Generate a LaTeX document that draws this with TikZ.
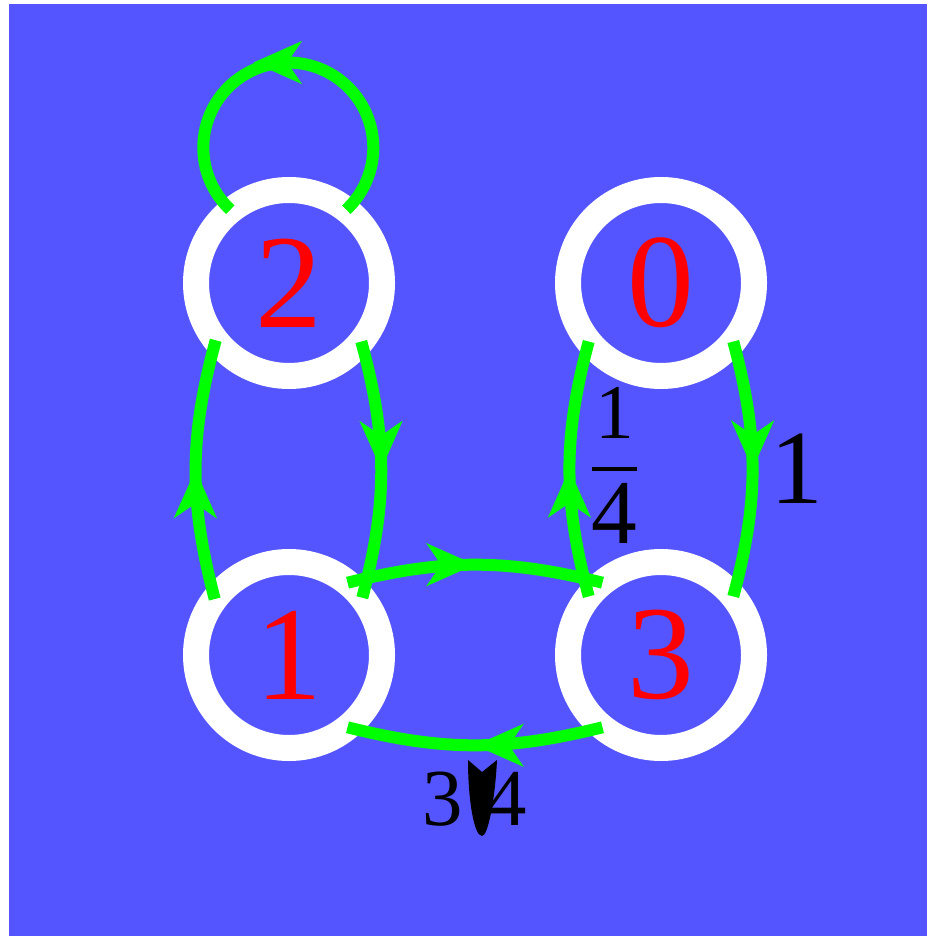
\documentclass[tikz,border=0pt]{standalone}
\usepackage{fontspec}
\setmainfont{Liberation Serif}
\usetikzlibrary{arrows.meta,positioning,backgrounds,decorations.markings}
\definecolor{bgblue}{HTML}{5555FF}
\definecolor{edgegreen}{HTML}{00FF00}
\definecolor{numred}{HTML}{FF0000}

\begin{document}
\begin{tikzpicture}[
    node distance=1.86cm,
    state/.style={circle,draw=white,line width=2.6mm,minimum size=1.86cm,inner sep=0pt,outer sep=0pt,text=numred,font=\fontsize{38}{38}\selectfont},
    trans/.style={draw,color=edgegreen,line width=1.2mm,
      decoration={markings,mark=at position 0.5 with {\arrow[xshift=#1]{Stealth[length=4.8mm,width=4.2mm,inset=1.4mm]}}},
      postaction={decorate}},
    trans/.default=0mm,
    lbl/.style={inner sep=0pt,text=black,font=\fontsize{30}{30}\selectfont}
  ]
  \useasboundingbox (0,0) rectangle (9.27,-9.36);
  \node[state] (n2) at (2.89,-2.83) {2};
  \node[state,right=of n2] (n0) {0};
  \node[state,below=of n2] (n1) {1};
  \node[state,right=of n1] (n3) {3};
  \begin{scope}[on background layer]
    \fill[bgblue] (0.09,-0.04) rectangle (9.27,-9.36);
  \end{scope}
  \draw[trans=3.5mm] (n2.52) arc[start angle=-47,end angle=227,radius=0.85];
  \draw[trans] (n1.143) to[bend left=15] (n2.218);
  \draw[trans] (n2.321) to[bend left=15] (n1.38);
  \draw[trans] (n1.51) to[bend left=14] (n3.129);
  \draw[trans] (n3.231) to[bend left=14]
    node[lbl,below=2.1mm,font=\fontsize{23}{23}\selectfont] (l31) {3\hspace{2.4mm}4} (n1.309);
  \draw[trans] (n3.141) to[bend left=15]
    node[lbl,right=1.2mm,font=\fontsize{24}{24}\selectfont] (l30)
    {$\displaystyle{\raisebox{-2pt}{\fontsize{22}{22}\selectfont 1}\above1.2pt\raisebox{2pt}{\fontsize{26}{26}\selectfont 4}}$} (n0.219);
  \draw[trans] (n0.321) to[bend left=15] node[lbl,right=1.2mm] (l03) {1} (n3.39);
  % the odd mark between 3 and 4
  \fill[black] (4.68,-7.60) -- (4.82,-7.72) -- (4.97,-7.60)
    .. controls (4.95,-8.0) and (4.88,-8.36) .. (4.82,-8.36)
    .. controls (4.74,-8.36) and (4.68,-8.0) .. cycle;
\end{tikzpicture}
\end{document}
